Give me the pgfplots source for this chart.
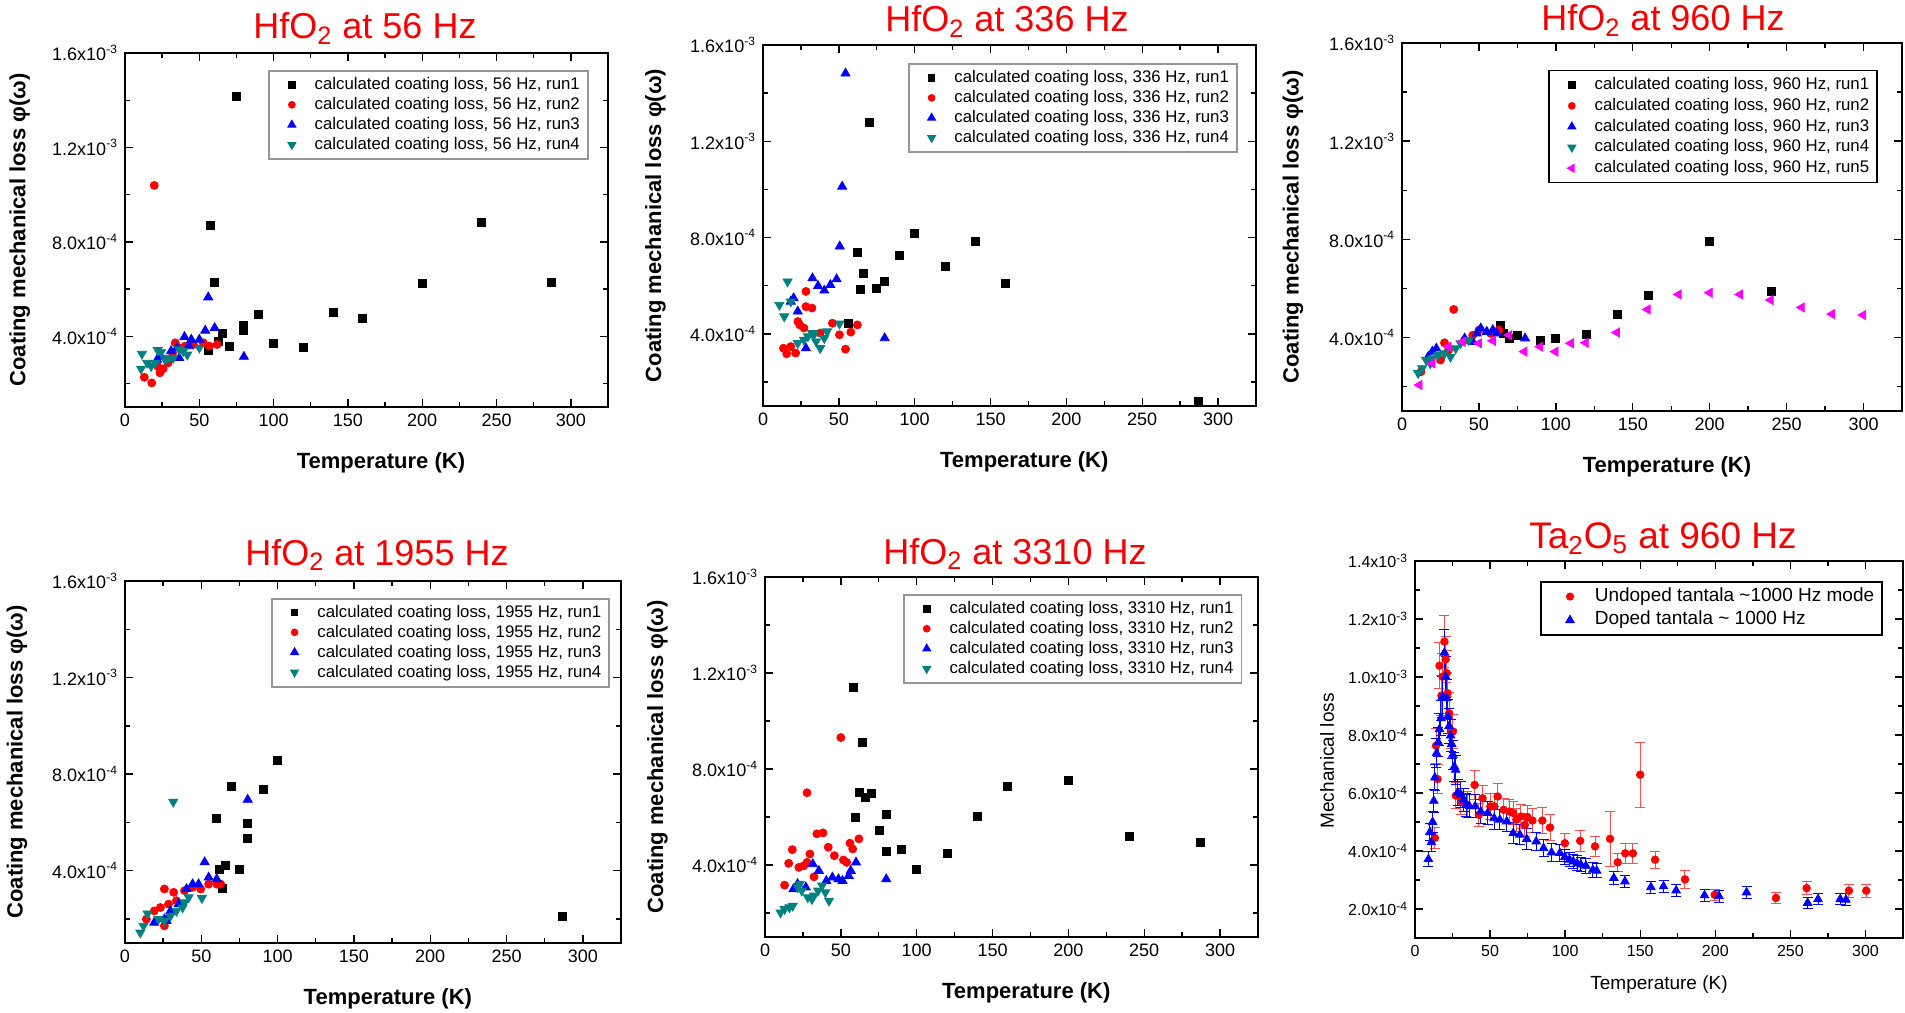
\documentclass[border=0pt]{standalone}
\usepackage{fontspec}
\setmainfont{Liberation Sans}
\usepackage{pgfplots}
\pgfplotsset{compat=1.18}
\definecolor{ttl}{RGB}{245,0,0}
\definecolor{tealc}{RGB}{0,128,128}
\definecolor{magc}{RGB}{255,0,255}
\definecolor{lgray}{RGB}{150,150,150}

\pgfplotsset{
  base/.style={
    scale only axis, xmin=0, xmax=325,
    xtick={0,50,...,300}, minor x tick num=1,
    tick align=inside,
    axis line style={line width=0.9pt},
    every tick/.style={black, line width=0.7pt},
    major tick length=4pt, minor tick length=2.5pt,
    scaled ticks=false,
    /pgf/number format/assume math mode=true,
    legend cell align=left,
  },
  hfo/.style={
    base,
    ymin=1e-4, ymax=1.6e-3,
    ytick={4e-4,8e-4,1.2e-3,1.6e-3},
    yticklabels={4.0x10\textsuperscript{-4},8.0x10\textsuperscript{-4},1.2x10\textsuperscript{-3},1.6x10\textsuperscript{-3}},
    minor ytick={2e-4,6e-4,1e-3,1.4e-3},
    tick label style={font=\fontsize{9}{10}\selectfont},
    xlabel={Temperature (K)},
    ylabel={Coating mechanical loss φ(ω)},
    label style={font=\bfseries\fontsize{11}{12}\selectfont},
    ylabel style={at={(axis description cs:-0.218,0.5)}, anchor=center},
    xlabel style={at={(axis description cs:0.53,0)}, anchor=center, yshift=-28pt},
    legend style={anchor=north east, draw=lgray, line width=0.8pt,
      font=\fontsize{8.4}{10}\selectfont,
      nodes={inner sep=1pt, text height=6.2pt, text depth=1.8pt},
      inner xsep=3pt, inner ysep=2pt},
    legend image code/.code={\path (-8pt,0) (10pt,0);
      \draw[mark repeat=2,mark phase=2,##1, every mark/.append style={scale=0.75}] plot coordinates {(-1pt,0)(0pt,0)(1pt,0)};},
  },
  r1/.style={only marks, mark=square*, mark size=2pt, black},
  r2/.style={only marks, mark=*, mark size=2pt, red},
  r3/.style={only marks, mark=triangle*, mark size=2.6pt, blue},
  r4/.style={only marks, mark=triangle*, mark size=2.6pt, tealc, mark options={rotate=180}},
  r5/.style={only marks, mark=triangle*, mark size=2.6pt, magc, mark options={rotate=90}},
}

\begin{document}
\begin{tikzpicture}
\useasboundingbox (0,0) rectangle (952.5pt,-506pt);

% ---------------- Panel 1: 56 Hz
\begin{axis}[hfo, at={(62.5pt,-203.5pt)}, anchor=south west, width=241.5pt, height=177pt,
  legend style={at={(0.96,0.952)}}]
\addplot[r1] coordinates {(56,3.41e-4)(57.5,8.68e-4)(60,6.30e-4)(63,3.79e-4)(65.7,4.14e-4)(70,3.55e-4)(75,1.416e-3)(80,4.44e-4)(80,4.25e-4)(90,4.93e-4)(100,3.70e-4)(120,3.51e-4)(140,4.99e-4)(160,4.76e-4)(200,6.24e-4)(240,8.83e-4)(287,6.27e-4)};
\addlegendentry{calculated coating loss, 56 Hz, run1}
\addplot[r2] coordinates {(13,2.26e-4)(18,2.02e-4)(19.7,1.039e-3)(22,2.73e-4)(23.5,2.45e-4)(25.7,2.62e-4)(29,2.87e-4)(32,3.29e-4)(33.8,3.72e-4)(36.5,3.51e-4)(40.5,3.58e-4)(46,3.65e-4)(52.7,3.72e-4)(56.8,3.58e-4)(62,3.65e-4)};
\addlegendentry{calculated coating loss, 56 Hz, run2}
\addplot[r3] coordinates {(21.6,3.01e-4)(24.3,3.13e-4)(31,3.37e-4)(35,3.51e-4)(36.5,3.08e-4)(40,3.97e-4)(43,3.58e-4)(44.6,3.86e-4)(50,3.86e-4)(54,4.24e-4)(56,5.65e-4)(60.3,4.35e-4)(80,3.13e-4)};
\addlegendentry{calculated coating loss, 56 Hz, run3}
\addplot[r4] coordinates {(10.8,2.62e-4)(11.4,3.25e-4)(14.9,2.87e-4)(17.6,2.73e-4)(20.3,2.87e-4)(22,3.41e-4)(24.3,3.32e-4)(27,3.01e-4)(29.7,3.08e-4)(32.4,3.08e-4)(36.5,3.44e-4)(39.2,3.37e-4)(41.9,3.22e-4)(50,3.51e-4)};
\addlegendentry{calculated coating loss, 56 Hz, run4}
\end{axis}

% ---------------- Panel 2: 336 Hz
\begin{axis}[hfo, at={(381.5pt,-203pt)}, anchor=south west, width=246.5pt, height=180.5pt,
  legend style={at={(0.963,0.95)}}]
\addplot[r1] coordinates {(56,4.44e-4)(62,7.39e-4)(64,5.83e-4)(66,6.50e-4)(70,1.277e-3)(75,5.88e-4)(80,6.17e-4)(90,7.27e-4)(100,8.17e-4)(120,6.81e-4)(140,7.85e-4)(160,6.08e-4)(287,1.19e-4)};
\addlegendentry{calculated coating loss, 336 Hz, run1}
\addplot[r2] coordinates {(13.5,3.40e-4)(15.6,3.17e-4)(18.3,3.47e-4)(21.5,3.20e-4)(23,4.51e-4)(24.2,4.37e-4)(27,4.24e-4)(28.3,5.76e-4)(28.3,5.13e-4)(32.3,5.07e-4)(37.7,4.03e-4)(45.8,4.44e-4)(50.4,3.96e-4)(54.4,3.36e-4)(57.9,4.07e-4)(62.2,4.37e-4)};
\addlegendentry{calculated coating loss, 336 Hz, run2}
\addplot[r3] coordinates {(18.3,5.34e-4)(20.2,5.48e-4)(22.9,4.93e-4)(28.3,3.40e-4)(32.6,6.31e-4)(36.3,5.99e-4)(40.4,5.80e-4)(44.4,6.03e-4)(48.5,6.27e-4)(50.6,7.63e-4)(52.2,1.012e-3)(54.4,1.482e-3)(80.2,3.82e-4)};
\addlegendentry{calculated coating loss, 336 Hz, run3}
\addplot[r4] coordinates {(10.8,5.20e-4)(14,4.72e-4)(16.2,6.17e-4)(18.3,5.34e-4)(22.9,3.61e-4)(27,3.75e-4)(29.6,3.89e-4)(32.3,4.03e-4)(33.6,3.96e-4)(35,3.68e-4)(37.7,3.40e-4)(40.4,3.82e-4)(42.3,4.10e-4)(50.4,4.42e-4)};
\addlegendentry{calculated coating loss, 336 Hz, run4}
\end{axis}

% ---------------- Panel 3: 960 Hz
\begin{axis}[hfo, at={(701pt,-205.5pt)}, anchor=south west, width=250pt, height=184pt,
  legend style={at={(0.952,0.927)}, draw=black, nodes={text height=6.4pt, text depth=2pt}}]
\addplot[r1] coordinates {(64,4.50e-4)(65.6,4.16e-4)(69.6,3.96e-4)(75.3,4.09e-4)(90,3.89e-4)(100,3.96e-4)(120,4.12e-4)(140,4.95e-4)(160,5.71e-4)(200,7.93e-4)(240,5.87e-4)};
\addlegendentry{calculated coating loss, 960 Hz, run1}
\addplot[r2] coordinates {(12.3,2.60e-4)(18.4,3.01e-4)(25,3.08e-4)(27.6,3.78e-4)(30.2,3.48e-4)(33.6,5.14e-4)(40.7,3.89e-4)(46,4.09e-4)(50,4.30e-4)(57.7,4.16e-4)(63,4.30e-4)};
\addlegendentry{calculated coating loss, 960 Hz, run2}
\addplot[r3] coordinates {(17,3.21e-4)(19.7,3.42e-4)(22.3,3.55e-4)(40.7,3.96e-4)(46,3.82e-4)(48.6,4.16e-4)(51.2,4.37e-4)(55.1,4.23e-4)(59,4.30e-4)(61.7,4.16e-4)(80,3.96e-4)};
\addlegendentry{calculated coating loss, 960 Hz, run3}
\addplot[r4] coordinates {(10.5,2.54e-4)(13.1,2.74e-4)(15.7,3.08e-4)(18.4,2.94e-4)(19.7,3.15e-4)(23.6,3.28e-4)(27.6,3.35e-4)(31.5,3.21e-4)(34.9,3.55e-4)(38,3.76e-4)(43.3,3.89e-4)};
\addlegendentry{calculated coating loss, 960 Hz, run4}
\addplot[r5] coordinates {(11.3,2.06e-4)(19.7,2.94e-4)(30.2,3.62e-4)(39.4,3.82e-4)(50,3.76e-4)(59,3.86e-4)(69.6,4.09e-4)(79.5,3.42e-4)(89.8,3.62e-4)(99.7,3.42e-4)(109.7,3.76e-4)(119.4,3.78e-4)(139.6,4.20e-4)(159.6,5.14e-4)(179.8,5.75e-4)(200,5.82e-4)(219.7,5.75e-4)(239.6,5.52e-4)(259.8,5.22e-4)(279.5,4.95e-4)(299.7,4.91e-4)};
\addlegendentry{calculated coating loss, 960 Hz, run5}
\end{axis}

% ---------------- Panel 4: 1955 Hz
\begin{axis}[hfo, at={(62.5pt,-471.5pt)}, anchor=south west, width=248pt, height=181pt,
  clip marker paths=true, legend style={at={(0.978,0.953)}}]
\addplot[r1] coordinates {(60.1,6.15e-4)(62,4.07e-4)(64,3.26e-4)(65.9,4.21e-4)(69.9,7.47e-4)(75.1,4.03e-4)(79.9,5.97e-4)(79.9,5.35e-4)(90.4,7.38e-4)(99.7,8.56e-4)(286.8,2.12e-4)};
\addlegendentry{calculated coating loss, 1955 Hz, run1}
\addplot[r2] coordinates {(14,1.99e-4)(19.2,2.33e-4)(23.2,2.47e-4)(25.8,3.24e-4)(25.8,1.71e-4)(28.5,2.61e-4)(31.9,3.10e-4)(33.7,2.75e-4)(39,3.17e-4)(44.3,3.31e-4)(49.6,3.24e-4)(54.8,3.44e-4)(60.1,3.44e-4)(62.7,3.44e-4)};
\addlegendentry{calculated coating loss, 1955 Hz, run2}
\addplot[r3] coordinates {(19.2,1.85e-4)(25.8,1.99e-4)(27.2,1.92e-4)(29.8,2.33e-4)(35.1,2.61e-4)(40.3,3.24e-4)(44.3,3.44e-4)(48.2,3.44e-4)(52.2,4.35e-4)(54.8,3.72e-4)(60.1,3.65e-4)(80.4,6.94e-4)};
\addlegendentry{calculated coating loss, 1955 Hz, run3}
\addplot[r4] coordinates {(10,1.43e-4)(12.1,1.71e-4)(14.8,2.22e-4)(18,0.98e-4)(21.9,1.99e-4)(25.8,1.92e-4)(29.8,2.12e-4)(31.6,6.85e-4)(33.7,2.33e-4)(37.7,2.47e-4)(39,2.68e-4)(41.7,2.89e-4)(50.4,2.86e-4)};
\addlegendentry{calculated coating loss, 1955 Hz, run4}
\end{axis}

% ---------------- Panel 5: 3310 Hz
\begin{axis}[hfo, at={(382.5pt,-468.5pt)}, anchor=south west, width=246.5pt, height=180pt,
  legend style={at={(0.968,0.953)}}]
\addplot[r1] coordinates {(58.1,1.140e-3)(59.7,5.99e-4)(61.9,7.04e-4)(64.3,9.09e-4)(66.2,6.83e-4)(70,7.00e-4)(75.3,5.44e-4)(79.9,6.10e-4)(79.9,4.56e-4)(90.1,4.67e-4)(100,3.80e-4)(120.3,4.49e-4)(140.2,6.04e-4)(160.1,7.29e-4)(199.9,7.53e-4)(240,5.18e-4)(287.3,4.93e-4)};
\addlegendentry{calculated coating loss, 3310 Hz, run1}
\addplot[r2] coordinates {(12.9,3.16e-4)(15.6,4.07e-4)(18,4.64e-4)(22.3,3.90e-4)(25.6,3.97e-4)(27.7,4.11e-4)(27.7,7.01e-4)(29.6,4.46e-4)(32.3,3.51e-4)(34.2,5.30e-4)(38.2,5.34e-4)(41.7,4.74e-4)(45.7,4.39e-4)(50,9.31e-4)(51.7,4.21e-4)(53.8,4.11e-4)(56,4.91e-4)(57.8,4.67e-4)(61.9,5.09e-4)};
\addlegendentry{calculated coating loss, 3310 Hz, run2}
\addplot[r3] coordinates {(18.8,3.00e-4)(21.5,3.21e-4)(26.9,3.07e-4)(31.5,4.04e-4)(35.5,3.76e-4)(40.4,3.34e-4)(44.4,3.48e-4)(48.4,3.41e-4)(51.1,3.34e-4)(55.2,3.55e-4)(56.5,3.76e-4)(60,4.11e-4)(79.9,3.41e-4)};
\addlegendentry{calculated coating loss, 3310 Hz, run3}
\addplot[r4] coordinates {(10.2,2.02e-4)(12.9,2.16e-4)(16.1,2.23e-4)(18.3,2.30e-4)(21.5,3.07e-4)(22.9,3.21e-4)(24.2,2.93e-4)(28.2,2.65e-4)(30.9,2.58e-4)(32.3,2.72e-4)(35,2.93e-4)(37.7,3.14e-4)(39.8,2.86e-4)(42.2,2.51e-4)};
\addlegendentry{calculated coating loss, 3310 Hz, run4}
\end{axis}

% ---------------- Panel 6: Ta2O5
\begin{axis}[base, at={(707.5pt,-469pt)}, anchor=south west, width=244pt, height=188.5pt,
  ymin=1e-4, ymax=1.4e-3,
  ytick={2e-4,4e-4,6e-4,8e-4,1e-3,1.2e-3,1.4e-3},
  yticklabels={2.0x10\textsuperscript{-4},4.0x10\textsuperscript{-4},6.0x10\textsuperscript{-4},8.0x10\textsuperscript{-4},1.0x10\textsuperscript{-3},1.2x10\textsuperscript{-3},1.4x10\textsuperscript{-3}},
  minor ytick={1e-4,3e-4,5e-4,7e-4,9e-4,1.1e-3,1.3e-3},
  tick label style={font=\fontsize{8}{9}\selectfont},
  xlabel={Temperature (K)}, ylabel={Mechanical loss},
  label style={font=\fontsize{9.5}{11}\selectfont},
  ylabel style={at={(axis description cs:-0.18,0.47)}, anchor=center},
  xlabel style={at={(axis description cs:0.5,0)}, anchor=center, yshift=-23.5pt},
  legend style={at={(0.959,0.947)}, anchor=north east, draw=black, line width=0.8pt,
    font=\fontsize{9.5}{11}\selectfont,
    nodes={inner sep=1pt, text height=7.3pt, text depth=2.5pt},
    inner xsep=3pt, inner ysep=1.5pt},
  legend image code/.code={\path (-11pt,0) (11pt,0);
    \draw[mark repeat=2,mark phase=2,#1, every mark/.append style={scale=0.85}] plot coordinates {(-1pt,0)(0pt,0)(1pt,0)};}]
\addplot[only marks, mark=*, mark size=1.9pt, red,
  error bars/.cd, y dir=both, y explicit,
  error bar style={red!70, line width=0.5pt},
  error mark options={rotate=90, mark size=2.5pt, red!70, line width=0.5pt}]
  table[x=x, y=y, y error=e] {
x y e
13.2 4.45e-4 3.5e-5
14 7.63e-4 6e-5
15 6.48e-4 5e-5
16.3 1.039e-3 8e-5
17.6 9.36e-4 7e-5
18.3 1.001e-3 8e-5
19.6 1.122e-3 9e-5
20.4 1.061e-3 8e-5
21.1 1.013e-3 8e-5
21.6 9.44e-4 7e-5
22.7 8.75e-4 7e-5
23.9 8.12e-4 6e-5
25.2 8.12e-4 6e-5
27.2 5.91e-4 4.5e-5
30.6 5.71e-4 4.5e-5
34.9 5.59e-4 4.5e-5
39.7 6.28e-4 5e-5
42.5 5.25e-4 4e-5
45 5.82e-4 4.5e-5
50.2 5.54e-4 4.5e-5
52.7 5.54e-4 4.5e-5
55 5.88e-4 4.5e-5
59 5.42e-4 4e-5
62.9 5.36e-4 4e-5
65.4 5.31e-4 4e-5
67.5 5.08e-4 4e-5
70.5 5.19e-4 4e-5
73.1 4.90e-4 4e-5
74.9 5.16e-4 4e-5
78.2 5.05e-4 4e-5
84.8 5.05e-4 4.5e-5
89.9 4.81e-4 4.5e-5
99.8 4.27e-4 3.5e-5
110 4.35e-4 3.5e-5
119.9 4.16e-4 3.5e-5
129.9 4.42e-4 9.5e-5
135 3.61e-4 3e-5
140 3.92e-4 3.5e-5
145.1 3.92e-4 3.5e-5
150 6.63e-4 1.12e-4
159.9 3.70e-4 3e-5
179.8 3.02e-4 3e-5
199.6 2.49e-4 2e-5
240.4 2.38e-4 2e-5
260.8 2.72e-4 2.2e-5
289 2.63e-4 2.2e-5
300.5 2.63e-4 2.2e-5
};
\addlegendentry{Undoped tantala \textasciitilde1000 Hz mode}
\addplot[only marks, mark=triangle*, mark size=2.45pt, blue,
  error bars/.cd, y dir=both, y explicit,
  error bar style={blue, line width=0.5pt},
  error mark options={rotate=90, mark size=2.5pt, blue, line width=0.5pt}]
  table[x=x, y=y, y error=e] {
x y e
8.9 3.72e-4 2.5e-5
9.9 4.65e-4 3e-5
10.9 4.30e-4 3e-5
11.7 5.00e-4 3.5e-5
12.5 5.73e-4 4e-5
13.2 6.53e-4 4.5e-5
14.3 7.37e-4 5e-5
15.5 7.75e-4 5e-5
16.3 8.20e-4 5.5e-5
17.3 8.58e-4 6e-5
18.3 9.32e-4 7e-5
19.6 1.084e-3 8e-5
20.4 1.001e-3 7e-5
21.1 9.27e-4 6.5e-5
21.9 8.64e-4 6e-5
22.7 8.31e-4 6e-5
23.7 7.98e-4 5.5e-5
24.4 7.69e-4 5e-5
25.2 7.32e-4 5e-5
26.2 6.91e-4 5e-5
27 6.80e-4 5e-5
28.5 6.02e-4 4.5e-5
30.6 5.94e-4 4.5e-5
32.3 5.77e-4 4e-5
34.1 5.59e-4 4e-5
36.2 5.54e-4 4e-5
40 5.54e-4 4e-5
43.8 5.36e-4 4e-5
48.4 5.31e-4 4e-5
52.7 5.13e-4 4e-5
56.5 5.08e-4 3.5e-5
61.1 5.02e-4 3.5e-5
65.4 4.62e-4 3.5e-5
69.8 4.56e-4 3.5e-5
74.4 4.41e-4 3.5e-5
80.7 4.33e-4 3e-5
85.6 4.10e-4 3e-5
90.9 3.95e-4 3e-5
96.5 3.93e-4 3e-5
99.8 3.79e-4 2.5e-5
102.9 3.70e-4 2.5e-5
105.4 3.64e-4 2.5e-5
108 3.58e-4 2.5e-5
110.5 3.53e-4 2.5e-5
113.8 3.49e-4 2.5e-5
118.4 3.35e-4 2.5e-5
121 3.32e-4 2.5e-5
132.4 3.07e-4 2.2e-5
139.8 2.95e-4 2.2e-5
157.1 2.75e-4 2e-5
165.5 2.78e-4 2e-5
173.9 2.64e-4 2e-5
192.8 2.47e-4 2e-5
202.5 2.44e-4 2e-5
220.8 2.57e-4 2e-5
261.5 2.21e-4 2e-5
268.4 2.34e-4 2e-5
283.2 2.34e-4 2e-5
287 2.32e-4 2e-5
};
\addlegendentry{Doped tantala \textasciitilde{} 1000 Hz}
\end{axis}

% ---------------- Titles
\node[anchor=base, text=ttl, font=\fontsize{18}{20}\selectfont] at (182.5pt,-19.5pt) {HfO\textsubscript{2} at 56 Hz};
\node[anchor=base, text=ttl, font=\fontsize{18}{20}\selectfont] at (503.5pt,-16pt) {HfO\textsubscript{2} at 336 Hz};
\node[anchor=base, text=ttl, font=\fontsize{18}{20}\selectfont] at (831.5pt,-15.5pt) {HfO\textsubscript{2} at 960 Hz};
\node[anchor=base, text=ttl, font=\fontsize{18}{20}\selectfont] at (188.5pt,-282.5pt) {HfO\textsubscript{2} at 1955 Hz};
\node[anchor=base, text=ttl, font=\fontsize{18}{20}\selectfont] at (507.5pt,-282pt) {HfO\textsubscript{2} at 3310 Hz};
\node[anchor=base, text=ttl, font=\fontsize{18.5}{20}\selectfont] at (831.5pt,-274pt) {Ta\textsubscript{2}O\textsubscript{5} at 960 Hz};
\end{tikzpicture}
\end{document}
